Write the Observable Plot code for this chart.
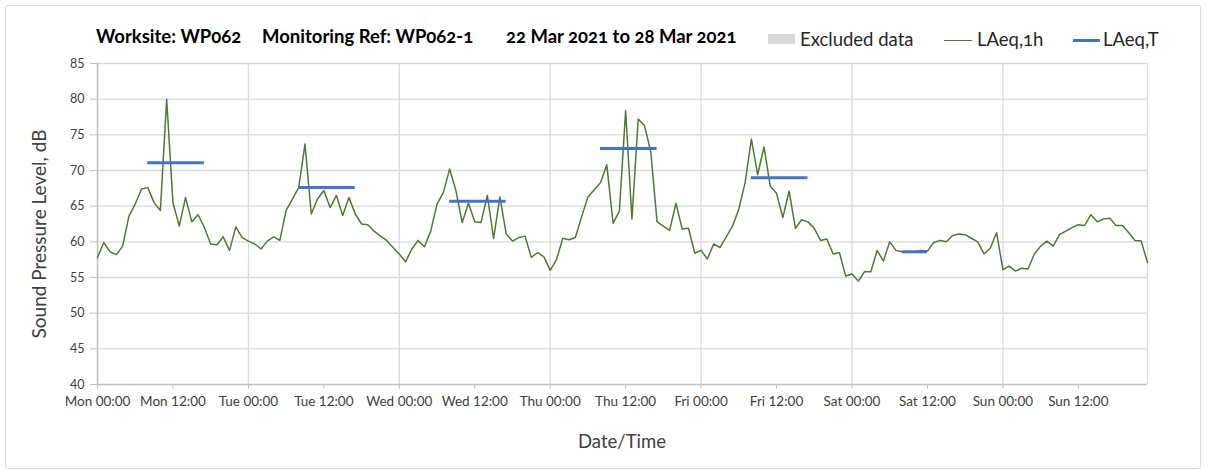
<!DOCTYPE html>
<html>
<head>
<meta charset="utf-8">
<script src="https://cdn.jsdelivr.net/npm/d3@7"></script>
<script src="https://cdn.jsdelivr.net/npm/@observablehq/plot@0.6"></script>
<style>
  body { margin: 0; background: #fff; font-family: Lato, "Open Sans", sans-serif; font-variant-numeric: oldstyle-nums; }
  #wrap { position: relative; width: 1208px; height: 474px; overflow: hidden; background: #fff; }
  #border { position: absolute; left: 5px; top: 5px; width: 1194px; height: 462px; border: 1px solid #d9d9d9; border-radius: 3px; }
  #chart { position: absolute; left: 0; top: 0; }
  .abs { position: absolute; white-space: nowrap; line-height: 1; }
  .title { font-weight: bold; font-size: 18.5px; color: #000; top: 27px; }
  .leg { font-size: 18.5px; color: #262626; top: 30px; }
  #ylab { left: 38px; top: 234px; transform: translate(-50%, -50%) rotate(-90deg); font-size: 19px; color: #404040; }
  #xlab { left: 622px; top: 441px; transform: translate(-50%, -50%); font-size: 18.5px; color: #404040; }
</style>
</head>
<body>
<div id="wrap">
  <div id="border"></div>
  <div id="chart"></div>
  <div class="abs title" style="left:96px">Worksite: WP062</div>
  <div class="abs title" style="left:262px">Monitoring Ref: WP062-1</div>
  <div class="abs title" style="left:506px">22 Mar 2021 to 28 Mar 2021</div>
  <div class="abs" style="left:768px;top:34px;width:27px;height:10px;background:#d9d9d9"></div>
  <div class="abs leg" style="left:800px">Excluded data</div>
  <div class="abs" style="left:944px;top:39.5px;width:28px;height:1.5px;background:#4f7a3b"></div>
  <div class="abs leg" style="left:977px">LAeq,1h</div>
  <div class="abs" style="left:1073px;top:38.5px;width:27px;height:3px;background:#4472c4"></div>
  <div class="abs leg" style="left:1103px">LAeq,T</div>
  <div class="abs" id="ylab">Sound Pressure Level, dB</div>
  <div class="abs" id="xlab">Date/Time</div>
</div>
<script>
// ---- data ----
const startUTC = Date.UTC(2021, 2, 22); // Mon 22 Mar 2021 00:00
const dayNames = ["Sun", "Mon", "Tue", "Wed", "Thu", "Fri", "Sat"];

// hourly LAeq,1h values (dB), Mon 00:00 .. Sun 23:00
const laeq1hMon = [57.8, 59.9, 58.6, 58.2, 59.4, 63.6, 65.3, 67.4, 67.6, 65.5, 64.4, 80.0, 65.5, 62.2, 66.2, 62.8, 63.8, 62.0, 59.7, 59.6, 60.7, 58.8, 62.1, 60.6];
const laeq1hTue = [60.1, 59.7, 59.0, 60.1, 60.7, 60.2, 64.4, 66.0, 67.6, 73.7, 63.9, 66.0, 67.2, 64.8, 66.5, 63.7, 66.2, 63.9, 62.5, 62.4, 61.5, 60.8, 60.2, 59.2];
const laeq1hWed = [58.3, 57.2, 59.0, 60.2, 59.3, 61.5, 65.3, 66.9, 70.2, 67.2, 62.7, 65.4, 62.8, 62.7, 66.5, 60.5, 66.3, 61.1, 60.1, 60.6, 60.8, 57.8, 58.5, 57.9];
const laeq1hThu = [56.0, 57.5, 60.5, 60.3, 60.6, 63.5, 66.3, 67.3, 68.3, 70.8, 62.6, 64.3, 78.4, 63.2, 77.2, 76.3, 72.6, 62.8, 62.2, 61.6, 65.4, 61.8, 61.9, 58.4];
const laeq1hFri = [58.8, 57.6, 59.7, 59.2, 60.7, 62.2, 64.6, 68.3, 74.4, 69.4, 73.3, 67.8, 66.8, 63.4, 67.1, 61.9, 63.1, 62.8, 61.9, 60.2, 60.4, 58.3, 58.5, 55.2];
const laeq1hSat = [55.5, 54.5, 55.8, 55.8, 58.8, 57.3, 60.0, 58.8, 58.6, 58.6, 58.6, 58.8, 58.7, 59.9, 60.2, 60.0, 60.9, 61.1, 61.0, 60.5, 60.0, 58.3, 59.1, 61.3];
const laeq1hSun = [56.1, 56.6, 55.9, 56.3, 56.2, 58.3, 59.4, 60.1, 59.4, 61.0, 61.5, 62.0, 62.4, 62.3, 63.8, 62.8, 63.2, 63.3, 62.3, 62.3, 61.3, 60.2, 60.1, 57.1];

// LAeq,T periods: day index (0 = Mon), start hour, end hour, level
const laeqTDay   = [0, 1, 2, 3, 4, 5];
const laeqTStart = [8, 8, 8, 8, 8, 8];
const laeqTEnd   = [17, 17, 17, 17, 17, 12];
const laeqTValue = [71.1, 67.6, 65.7, 73.1, 69.0, 58.6];

const yTicks = [40, 45, 50, 55, 60, 65, 70, 75, 80, 85];
const xTickHours = [0, 12, 24, 36, 48, 60, 72, 84, 96, 108, 120, 132, 144, 156];
const dayLineHours = [24, 48, 72, 96, 120, 144];

// ---- build ----
const H = 3600e3;
const hourly = [].concat(laeq1hMon, laeq1hTue, laeq1hWed, laeq1hThu, laeq1hFri, laeq1hSat, laeq1hSun);
const series = hourly.map((v, i) => ({t: new Date(startUTC + i * H), v}));
const segs = laeqTDay.map((d, i) => ({
  x1: new Date(startUTC + (d * 24 + laeqTStart[i]) * H),
  x2: new Date(startUTC + (d * 24 + laeqTEnd[i]) * H),
  y: laeqTValue[i]
}));
const xTicks = xTickHours.map(h => new Date(startUTC + h * H));
const dayLines = dayLineHours.map(h => new Date(startUTC + h * H));
const fmt = d => `${dayNames[d.getUTCDay()]} ${String(d.getUTCHours()).padStart(2, "0")}:00`;

const chart = Plot.plot({
  width: 1208,
  height: 474,
  marginLeft: 97,
  marginRight: 61,
  marginTop: 63,
  marginBottom: 90,
  style: {fontFamily: "Lato, 'Open Sans', sans-serif", color: "#404040", background: "transparent", fontVariantNumeric: "oldstyle-nums"},
  x: {type: "utc", domain: [series[0].t, series[series.length - 1].t]},
  y: {domain: [40, 85]},
  marks: [
    Plot.gridY(yTicks.slice(1), {stroke: "#d9d9d9", strokeOpacity: 1, strokeWidth: 1.3}),
    Plot.gridX(dayLines, {stroke: "#d9d9d9", strokeOpacity: 1, strokeWidth: 1.3}),
    Plot.ruleX([series[series.length - 1].t], {stroke: "#d9d9d9", strokeWidth: 1.3}),
    Plot.ruleY([40], {stroke: "#bfbfbf", strokeWidth: 1.5}),
    Plot.ruleX([series[0].t], {stroke: "#bfbfbf", strokeWidth: 1.5}),
    Plot.axisY(yTicks, {tickSize: 7, tickPadding: 6, stroke: "#bfbfbf", fill: "#404040", fontSize: 12.5, label: null}),
    Plot.axisX(xTicks, {tickSize: 5, tickPadding: 7, tickFormat: fmt, stroke: "#bfbfbf", fill: "#404040", fontSize: 13.5, label: null}),
    Plot.line(series, {x: "t", y: "v", stroke: "#4e7a36", strokeWidth: 1.5}),
    Plot.ruleY(segs, {y: "y", x1: "x1", x2: "x2", stroke: "#4472c4", strokeWidth: 3})
  ]
});
document.getElementById("chart").appendChild(chart);
</script>
</body>
</html>
